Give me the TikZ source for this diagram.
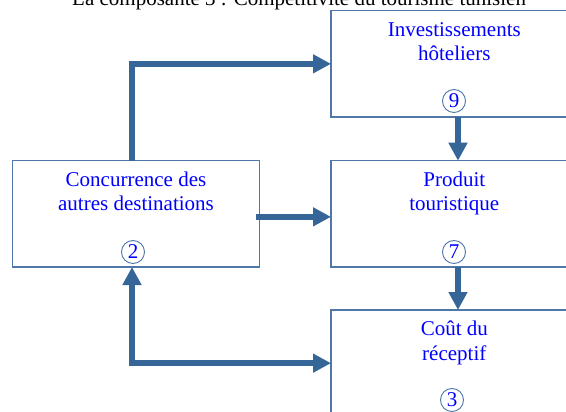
\documentclass[tikz,border=0pt]{standalone}
\usepackage{fontspec}
\setmainfont{Liberation Serif}
\usetikzlibrary{arrows.meta}
\definecolor{arrowblue}{RGB}{54,101,152}
\definecolor{edgeblue}{RGB}{79,119,168}
\definecolor{txtblue}{RGB}{0,0,255}
\begin{document}
\begin{tikzpicture}[x=1pt,y=-1pt,
  box/.style={draw=edgeblue,line width=1.3pt,minimum width=246.6pt,minimum height=106.3pt,inner sep=0pt,outer sep=0pt},
  lbl/.style={text=txtblue,font=\fontsize{21}{24.5}\selectfont,align=center,anchor=base,inner sep=0pt},
  num/.style={circle,draw=edgeblue,line width=0.9pt,text=txtblue,minimum size=23pt,inner sep=0pt,font=\fontsize{21}{21}\selectfont},
  arr/.style={draw=arrowblue,line width=6pt,-{Triangle[length=18pt,width=18pt]}},
  darr/.style={draw=arrowblue,line width=6pt,{Triangle[length=18pt,width=18pt]}-{Triangle[length=18pt,width=18pt]}}
]
\useasboundingbox (0,0) rectangle (566,412);
\clip (0,0) rectangle (566,412);
\fill[white] (0,0) rectangle (566,412);

\node[font=\fontsize{21}{24}\selectfont,anchor=base west,inner sep=0pt] (title) at (72,6) {La composante 3 : Compétitivité du tourisme tunisien};

\node[box] (inv) at (454.3,63.85) {};
\node[box] (conc) at (136,213.85) {};
\node[box] (prod) at (454.3,213.85) {};
\node[box] (cout) at (454.3,363.15) {};

\node[lbl] (tinv) at (454.3,61) {Investissements\\hôteliers};
\node[lbl] (tconc) at (136,210.8) {Concurrence des\\autres destinations};
\node[lbl] (tprod) at (454.3,210.8) {Produit\\touristique};
\node[lbl] (tcout) at (454.3,360.3) {Coût du\\réceptif};

\node[num] (n9) at (454,101) {9};
\node[num] (n2) at (133,252) {2};
\node[num] (n7) at (454,252) {7};
\node[num] (n3) at (452,400) {3};

\draw[arr] ([xshift=-4.5pt]conc.north) |- (inv.west);
\draw[arr] ([xshift=-3pt,yshift=-3pt]conc.east) -- ([yshift=-3pt]prod.west);
\draw[arr] ([xshift=3.7pt]inv.south) -- ([xshift=3.7pt]prod.north);
\draw[arr] ([xshift=3.7pt]prod.south) -- ([xshift=3.7pt]cout.north);
\draw[darr] ([xshift=-4pt]conc.south) |- (cout.west);
\end{tikzpicture}
\end{document}
